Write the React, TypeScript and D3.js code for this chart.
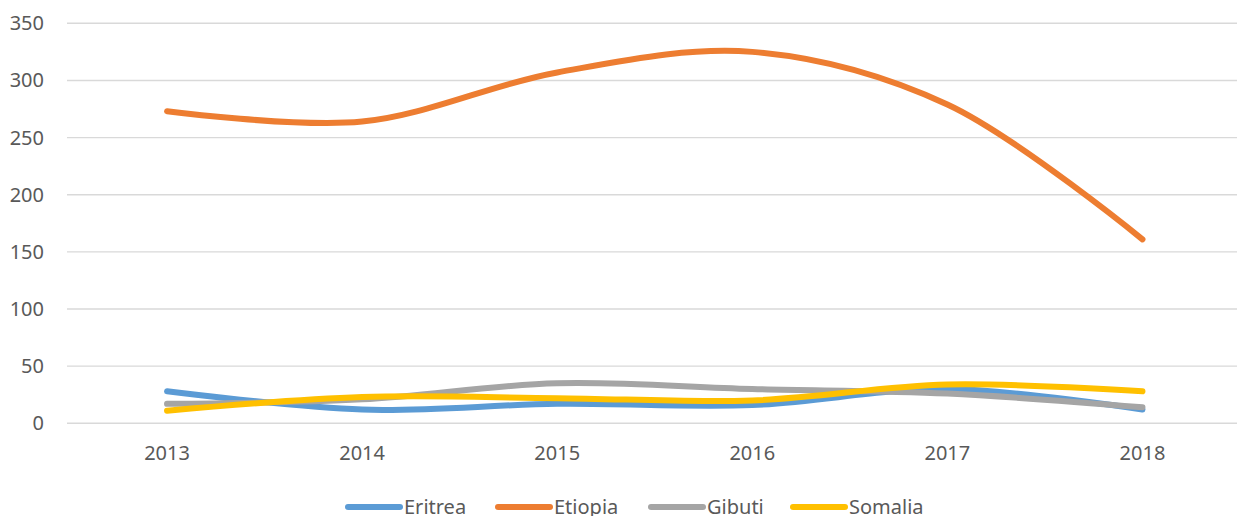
import React from "react";
import * as d3 from "d3";

const years = ["2013", "2014", "2015", "2016", "2017", "2018"];
const eritrea = [28, 12, 17, 16, 30, 12];
const etiopia = [273, 264, 307, 325, 279, 161];
const gibuti = [17, 21, 35, 30, 26, 14];
const somalia = [11, 23, 22, 20, 34, 28];
const yTicks = [0, 50, 100, 150, 200, 250, 300, 350];

const seriesNames = ["Eritrea", "Etiopia", "Gibuti", "Somalia"];
const seriesColors = ["#5B9BD5", "#ED7D31", "#A5A5A5", "#FFC000"];

const W = 1237;
const H = 516;
const FONT = "'Noto Sans', 'Open Sans', sans-serif";

export default function App() {
  const x = d3.scalePoint<string>().domain(years).range([69.5, 1240]).padding(0.5);
  const y = d3.scaleLinear().domain([0, 350]).range([423.3, 23.3]);
  const allSeries = [eritrea, etiopia, gibuti, somalia];
  const line = d3
    .line<number>()
    .x((_, i) => x(years[i]) as number)
    .y((d) => y(d))
    .curve(d3.curveCatmullRom.alpha(0.5));

  const legendX = [345, 495, 648, 790];
  const legendY = 507;

  return (
    <svg width={W} height={H} style={{ position: "absolute", left: 0, top: 0, background: "#fff" }}>
      <rect width={W} height={H} fill="#fff" />
      {yTicks.map((t) => (
        <g key={t}>
          <line x1={67} x2={1237} y1={y(t)} y2={y(t)} stroke="#D9D9D9" strokeWidth={1.4} />
          <text
            x={44}
            y={y(t)}
            dy="0.35em"
            textAnchor="end"
            fontFamily={FONT}
            fontSize={20}
            fill="#595959"
          >
            {t}
          </text>
        </g>
      ))}
      {years.map((yr) => (
        <text
          key={yr}
          x={x(yr)}
          y={460}
          textAnchor="middle"
          fontFamily={FONT}
          fontSize={20}
          fill="#595959"
        >
          {yr}
        </text>
      ))}
      {allSeries.map((s, i) => (
        <path
          key={seriesNames[i]}
          d={line(s) || ""}
          fill="none"
          stroke={seriesColors[i]}
          strokeWidth={6}
          strokeLinecap="round"
          strokeLinejoin="round"
        />
      ))}
      {seriesNames.map((n, i) => (
        <g key={n}>
          <line
            x1={legendX[i] + 3}
            x2={legendX[i] + 55}
            y1={legendY}
            y2={legendY}
            stroke={seriesColors[i]}
            strokeWidth={6}
            strokeLinecap="round"
          />
          <text
            x={legendX[i] + 59}
            y={legendY}
            dy="0.35em"
            fontFamily={FONT}
            fontSize={20}
            fill="#595959"
          >
            {n}
          </text>
        </g>
      ))}
    </svg>
  );
}
